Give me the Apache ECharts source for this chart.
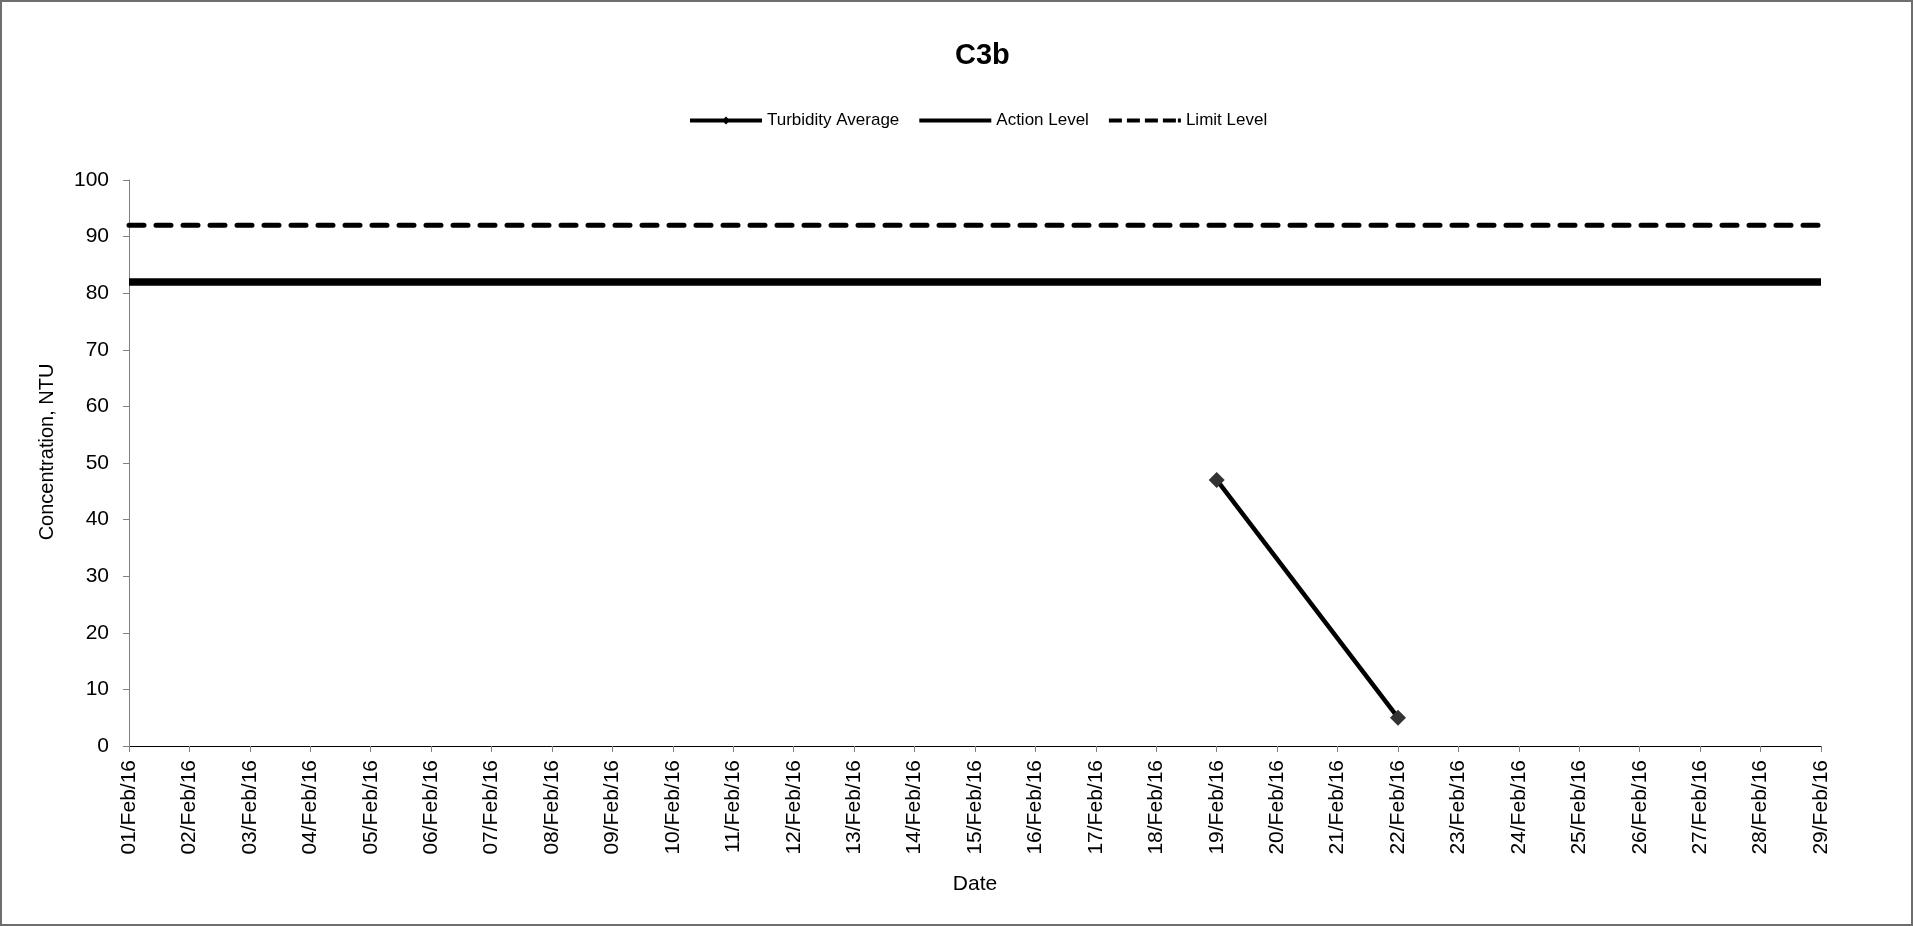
<!DOCTYPE html>
<html>
<head>
<meta charset="utf-8">
<script src="https://cdn.jsdelivr.net/npm/echarts@6/dist/echarts.min.js"></script>
<style>
html,body{margin:0;padding:0;background:#fff;}
#main{width:1913px;height:926px;}
</style>
</head>
<body>
<div id="main"></div>
<script>
var dates = ['01/Feb/16','02/Feb/16','03/Feb/16','04/Feb/16','05/Feb/16','06/Feb/16','07/Feb/16','08/Feb/16','09/Feb/16','10/Feb/16','11/Feb/16','12/Feb/16','13/Feb/16','14/Feb/16','15/Feb/16','16/Feb/16','17/Feb/16','18/Feb/16','19/Feb/16','20/Feb/16','21/Feb/16','22/Feb/16','23/Feb/16','24/Feb/16','25/Feb/16','26/Feb/16','27/Feb/16','28/Feb/16','29/Feb/16'];
var turbidityAverage = [null,null,null,null,null,null,null,null,null,null,null,null,null,null,null,null,null,null,47,null,null,5,null,null,null,null,null,null,null];
var actionLevel = [82,82,82,82,82,82,82,82,82,82,82,82,82,82,82,82,82,82,82,82,82,82,82,82,82,82,82,82,82];
var limitLevel = [92,92,92,92,92,92,92,92,92,92,92,92,92,92,92,92,92,92,92,92,92,92,92,92,92,92,92,92,92];
var yTicks = {min:0, max:100, interval:10};

var FONT = 'Liberation Sans, Arial, sans-serif';
var ICON_TURB = 'path://M0,3H72V7H0Z M36,1L40,5L36,9L32,5Z';
var ICON_SOLID = 'path://M0,0H72V4H0Z';
var ICON_DASH = 'path://M0,0H13V4H0Z M18,0H31V4H18Z M36,0H49V4H36Z M54,0H67V4H54Z M69,0H72V4H69Z';

var chart = echarts.init(document.getElementById('main'));
chart.setOption({
  animation: false,
  backgroundColor: '#fff',
  textStyle: {fontFamily: FONT, color: '#000'},
  graphic: [{
    type: 'rect', silent: true, z: 100,
    shape: {x: 1, y: 1, width: 1911, height: 924},
    style: {fill: 'none', stroke: '#6e6e6e', lineWidth: 2}
  }],
  title: {
    text: 'C3b', left: 950, top: 36,
    textStyle: {fontFamily: FONT, fontSize: 29, fontWeight: 'bold', color: '#000'}
  },
  legend: {
    left: 685, top: 107, itemWidth: 72, itemHeight: 10, itemGap: 20,
    symbolKeepAspect: true,
    textStyle: {fontFamily: FONT, fontSize: 17, color: '#000'},
    data: [
      {name: 'Turbidity Average', icon: ICON_TURB, itemStyle: {color: '#000'}},
      {name: 'Action Level', icon: ICON_SOLID, itemStyle: {color: '#000'}},
      {name: 'Limit Level', icon: ICON_DASH, itemStyle: {color: '#000'}}
    ]
  },
  grid: {left: 129, right: 92, top: 180, bottom: 180, containLabel: false},
  xAxis: {
    type: 'category', data: dates, boundaryGap: false,
    name: 'Date', nameLocation: 'middle', nameGap: 128,
    nameTextStyle: {fontFamily: FONT, fontSize: 21, color: '#000'},
    axisLine: {lineStyle: {color: '#000', width: 1}},
    axisTick: {show: true, length: 6, lineStyle: {color: '#808080'}},
    axisLabel: {rotate: 90, interval: 0, margin: 14, fontFamily: FONT, fontSize: 21, color: '#000'},
    splitLine: {show: false}
  },
  yAxis: {
    type: 'value', min: yTicks.min, max: yTicks.max, interval: yTicks.interval,
    name: 'Concentration, NTU', nameLocation: 'middle', nameGap: 72,
    nameTextStyle: {fontFamily: FONT, fontSize: 20, color: '#000', padding: [0,0,0,22]},
    axisLine: {show: true, lineStyle: {color: '#808080', width: 1}},
    axisTick: {show: true, length: 6, lineStyle: {color: '#808080'}},
    axisLabel: {margin: 20, fontFamily: FONT, fontSize: 21, color: '#000'},
    splitLine: {show: false}
  },
  series: [
    {
      name: 'Turbidity Average', type: 'line', data: turbidityAverage, connectNulls: true,
      symbol: 'diamond', symbolSize: 16, showAllSymbol: true,
      itemStyle: {color: '#333333'},
      lineStyle: {color: '#000', width: 4.5},
      z: 5
    },
    {
      name: 'Action Level', type: 'line', data: actionLevel, symbol: 'none',
      itemStyle: {color: '#000'},
      lineStyle: {color: '#000', width: 7.5}
    },
    {
      name: 'Limit Level', type: 'line', data: limitLevel, symbol: 'none',
      itemStyle: {color: '#000'},
      lineStyle: {color: '#000', width: 5, type: [15, 12], cap: 'round'}
    }
  ]
});
</script>
</body>
</html>
